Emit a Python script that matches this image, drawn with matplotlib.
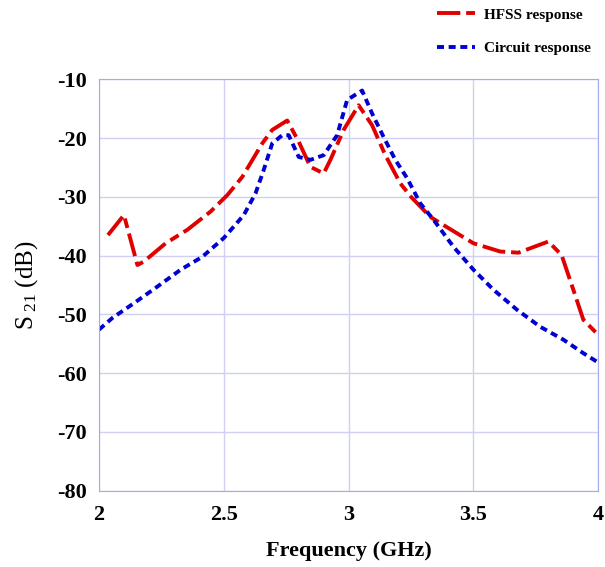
import matplotlib
matplotlib.use("Agg")
import matplotlib.pyplot as plt

hfss_f = [2.036, 2.10, 2.154, 2.18, 2.267, 2.354, 2.447, 2.514, 2.574, 2.654, 2.694, 2.754,
          2.80, 2.847, 2.90, 2.927, 2.98, 3.04, 3.094, 3.147, 3.207, 3.25, 3.327, 3.38,
          3.50, 3.607, 3.68, 3.80, 3.853, 3.90, 3.94, 4.0]
hfss_s21 = [-36.5, -33.1, -41.6, -41.0, -37.9, -35.6, -32.5, -29.7, -26.6, -20.9, -18.6, -17.0,
            -20.6, -24.9, -26.0, -23.7, -18.6, -14.4, -17.8, -22.9, -27.7, -30.0, -33.4, -34.8,
            -37.9, -39.3, -39.5, -37.6, -39.9, -45.8, -50.9, -53.5]

circ_f = [2.0, 2.054, 2.14, 2.233, 2.327, 2.414, 2.50, 2.58, 2.627, 2.66, 2.694, 2.734, 2.76,
          2.80, 2.847, 2.90, 2.954, 2.994, 3.054, 3.094, 3.14, 3.187, 3.234, 3.287, 3.34,
          3.42, 3.50, 3.58, 3.674, 3.767, 3.86, 3.94, 4.0]
circ_s21 = [-52.6, -50.6, -48.1, -45.3, -42.4, -40.2, -37.0, -33.1, -29.4, -25.4, -20.9, -19.5,
            -19.5, -23.2, -23.7, -22.9, -19.5, -13.5, -11.9, -15.8, -19.8, -23.7, -26.8, -31.1,
            -33.9, -38.5, -42.4, -45.8, -49.2, -52.1, -54.3, -56.6, -58.2]

x_ticks = [2, 2.5, 3, 3.5, 4]
x_labels = ["2", "2.5", "3", "3.5", "4"]
y_ticks = [-80, -70, -60, -50, -40, -30, -20, -10]
y_labels = ["-80", "-70", "-60", "-50", "-40", "-30", "-20", "-10"]

plt.rcParams['font.family'] = ['Liberation Serif', 'DejaVu Serif']
plt.rcParams['mathtext.fontset'] = 'custom'
plt.rcParams['mathtext.rm'] = 'Liberation Serif'
plt.rcParams['mathtext.it'] = 'Liberation Serif:italic'

fig = plt.figure(figsize=(6.05, 5.67), dpi=100)
ax = fig.add_axes([0.1636, 0.1347, 0.8253, 0.7253])

l1, = ax.plot(hfss_f, hfss_s21, color='#e00000', lw=2.8, dashes=(6, 1.5, 2.5, 1.5),
              label='HFSS response', solid_capstyle='butt')
l2, = ax.plot(circ_f, circ_s21, color='#0000d0', lw=2.8, dashes=(1.8, 1.2),
              label='Circuit response')

ax.set_xlim(2, 4)
ax.set_ylim(-80, -10)
ax.set_xticks(x_ticks)
ax.set_xticklabels(x_labels)
ax.set_yticks(y_ticks)
ax.set_yticklabels(y_labels)
ax.grid(True, color='#d0d0f4', lw=1)
ax.set_axisbelow(True)
for s in ax.spines.values():
    s.set_color('#a8a8e8')
ax.tick_params(length=0, labelsize=16)
ax.tick_params(axis='y', pad=9)
ax.tick_params(axis='x', pad=10)
for t in ax.get_xticklabels() + ax.get_yticklabels():
    t.set_fontweight('bold')

ax.set_xlabel('Frequency (GHz)', fontsize=16, fontweight='bold', labelpad=12)
ax.set_ylabel(r'S$_{\rm\ 21}$ (dB)', fontsize=18, labelpad=12)

fig.legend(handles=[l1, l2], loc='upper right', bbox_to_anchor=(1.0, 1.01),
           frameon=False, prop={'family': 'Liberation Serif', 'weight': 'bold', 'size': 11},
           labelspacing=1.3, handlelength=2.5, handletextpad=0.6)

fig.savefig('out.png', dpi=100)
